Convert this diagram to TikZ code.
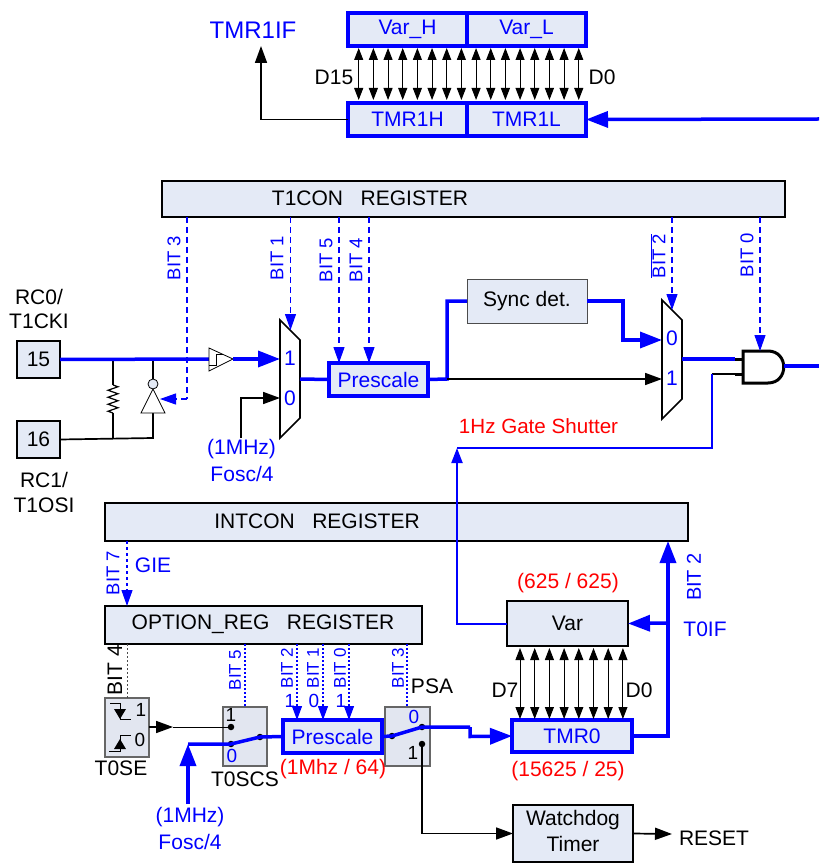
\documentclass[tikz,border=0pt]{standalone}
\usepackage{fontspec}
\setmainfont{Liberation Sans}
\usetikzlibrary{arrows.meta,decorations.pathmorphing}

\definecolor{boxfill}{HTML}{E4EAF6}
\definecolor{swfill}{HTML}{E2E6F0}
\tikzstyle{regbox} = [draw=black, line width=1.7pt, fill=boxfill, anchor=north west,
    inner sep=0pt, outer sep=0pt, font=\fontsize{21}{23}\selectfont]
\tikzstyle{bluebox} = [regbox, draw=blue, line width=3.5pt, text=blue]
\tikzstyle{swbox} = [regbox, line width=1.2pt, draw=black!60, fill=swfill]
\tikzstyle{txt} = [inner sep=0pt, font=\fontsize{21}{23}\selectfont]
\tikzstyle{digit} = [txt, font=\fontsize{19}{21}\selectfont]
\tikzstyle{bluetxt} = [txt, text=blue]
\tikzstyle{bluedigit} = [digit, text=blue]
\tikzstyle{redtxt} = [txt, text=red]
\tikzstyle{bitlbl} = [bluetxt, rotate=90, font=\fontsize{18.5}{20}\selectfont]
\tikzstyle{smallbit} = [bluetxt, rotate=90, font=\fontsize{17}{18}\selectfont]
\tikzstyle{wire} = [line width=1.7pt]
\tikzstyle{wirearr} = [wire, -{Triangle[length=17pt,width=12pt]}]
\tikzstyle{bluewire} = [draw=blue, line width=3.5pt]
\tikzstyle{bluearr} = [bluewire, -{Triangle[length=22pt,width=16pt]}]
\tikzstyle{biarr} = [line width=1pt, {Triangle[length=12pt,width=9pt]}-{Triangle[length=12pt,width=9pt]}]
\tikzstyle{dashbit} = [draw=blue, line width=1.1pt, dash pattern=on 6pt off 4pt,
    -{Triangle[length=16pt,width=11pt]}]
\tikzstyle{dotbit} = [draw=blue, line width=1.1pt, dash pattern=on 2pt off 2pt]
\tikzstyle{dotarr} = [dotbit, -{Triangle[length=14pt,width=10pt]}]
\tikzstyle{dot} = [circle, fill=black, inner sep=0pt, minimum size=6.5pt]

\begin{document}
\begin{tikzpicture}[x=1pt, y=-1pt]
  \useasboundingbox (0,0) rectangle (819,866);

  % top registers
  \node (varh) [bluebox, minimum width=119pt, minimum height=33pt] at (348,13) {Var\_H};
  \node (varl) [bluebox, minimum width=119pt, minimum height=33pt] at (467,13) {Var\_L};
  \node (tmrh) [bluebox, minimum width=119pt, minimum height=33pt] at (348,103) {TMR1H};
  \node (tmrl) [bluebox, minimum width=119pt, minimum height=33pt] at (467,103) {TMR1L};
  \node (tmrif) [bluetxt, font=\fontsize{24}{26}\selectfont] at (253,30) {TMR1IF};
  \node (d15) [txt] at (334,77) {D15};
  \node (d0) [txt] at (602,77) {D0};
  \coordinate (tmrifin) at (261,46);
  \coordinate (tmrin) at (819,119);
  \draw [wirearr] (tmrh.west) -| (tmrifin);
  \draw [bluearr] (tmrin) -- (tmrl.east);
  \foreach \i in {0,...,15} {
    \coordinate (upa\i) at (358.7+14.67*\i,48);
    \coordinate (upb\i) at (358.7+14.67*\i,100);
    \draw [biarr] (upa\i) -- (upb\i);
  }

  % T1CON
  \node (t1con) [regbox, minimum width=623pt, minimum height=36pt] at (162,181) {};
  \node (t1context) [txt] at (370,198) {T1CON\ \ \ REGISTER};
  \node (pin15) [regbox, minimum width=43pt, minimum height=37pt] at (17,341) {15};
  \node (pin16) [regbox, minimum width=43pt, minimum height=37pt] at (17,421) {16};
  \node (rc0) [txt] at (39,297) {RC0/};
  \node (t1cki) [txt] at (39,321) {T1CKI};
  \node (rc1) [txt] at (44,480) {RC1/};
  \node (t1osi) [txt] at (44,505) {T1OSI};
  \node (pre1) [bluebox, minimum width=99pt, minimum height=33pt] at (329,363) {Prescale};
  \node (sync) [regbox, line width=1pt, draw=black!70, minimum width=120pt, minimum height=44pt] at (467,279) {Sync det.};

  % pins, resistor and buffers
  \coordinate (tapr) at (113,359);
  \coordinate (tapi) at (153,359);
  \coordinate (lowr) at (113,438);
  \coordinate (lowi) at (153,438);
  \coordinate (invtip) at (153,389);
  \coordinate (invbase) at (153,413);
  \coordinate (rtop) at (113,385);
  \coordinate (rbot) at (113,413);
  \coordinate (sta) at (209,359);
  \coordinate (stb) at (233,359);
  \coordinate (muxai) at (280,359);
  \coordinate (muxaj) at (280,398);
  \coordinate (muxao) at (300,379);
  \draw [wire] (pin16.east) -- (lowi) -- (invbase);
  \draw [wire] (tapr) -- (rtop);
  \draw [line width=1.2pt, decorate, decoration={zigzag, segment length=7pt, amplitude=5pt}] (rtop) -- (rbot);
  \draw [wire] (rbot) -- (lowr);
  \draw [wire] (tapi) -- (153,379);
  \draw [bluewire] (pin15.east) -- (sta);
  \draw [line width=.8pt, fill=white] (sta |- 0,348) -- (stb) -- (sta |- 0,371) -- cycle;
  \draw [line width=.8pt] (209,365) -- (216,365) -- (216,354) -- (223,354);
  \draw [line width=.8pt, fill=boxfill] (153,384) circle (5);
  \draw [line width=.8pt, fill=white] (invtip) -- (165,413) -- (141,413) -- cycle;
  \draw [bluearr] (stb) -- (muxai);
  \draw [wirearr] (241,438) node (foscin) {} -- (241,398) -- (muxaj);

  % first mux
  \draw [line width=1.7pt, fill=white] (280,320) -- (300,340) -- (300,418) -- (280,438) -- cycle;
  \node (muxa1) [bluetxt] at (290,358) {1};
  \node (muxa0) [bluetxt] at (290,398) {0};
  \node (fosca) [bluetxt] at (241.5,449) {(1MHz)};
  \node (foscb) [bluetxt] at (242,474) {Fosc/4};
  \draw [bluewire] (muxao) -- (pre1.west);

  % second mux and gate
  \coordinate (split) at (447,379);
  \coordinate (muxbi) at (662,340);
  \coordinate (muxbj) at (662,379);
  \coordinate (muxbo) at (682,359);
  \coordinate (anda) at (743,359);
  \coordinate (andb) at (743,374);
  \coordinate (andout) at (784,366);
  \coordinate (andend) at (819,366);
  \coordinate (stuba) at (735,359);
  \coordinate (stubb) at (735,374);
  \coordinate (gate) at (712,374);
  \draw [bluewire] (pre1.east) -- (split) |- (sync.west);
  \draw [wirearr] (split) -- (muxbj);
  \draw [bluearr] (sync.east) -| (623,340) -- (muxbi);
  \draw [line width=1.7pt, fill=white] (662,300) -- (682,320) -- (682,399) -- (662,419) -- cycle;
  \node (muxb0) [bluetxt] at (672,338) {0};
  \node (muxb1) [bluetxt] at (672,378) {1};
  \draw [bluewire] (muxbo) -- (stuba);
  \draw [line width=3pt] (stuba) -- (anda);
  \draw [line width=1.7pt] (gate) -- (stubb);
  \draw [line width=3pt] (stubb) -- (andb);
  \draw [line width=3pt, fill=white] (743,351) -- (768,351) .. controls (789,351) and (789,383) .. (768,383) -- (743,383) -- cycle;
  \draw [bluewire] (andout) -- (andend);
  \node (shutter) [redtxt, font=\fontsize{20.6}{23}\selectfont] at (538.5,426) {1Hz Gate Shutter};

  % T1CON control bits
  \coordinate (bitc) at (187,399);
  \coordinate (invctl) at (160,399);
  \draw [draw=blue, line width=1.1pt, dash pattern=on 6pt off 4pt] (187,217) -- (bitc);
  \draw [dashbit] (bitc) -- (invctl);
  \draw [dashbit] (290.5,217) -- (290.5,330);
  \draw [dashbit] (339,217) -- (339,363);
  \draw [dashbit] (369,217) -- (369,363);
  \draw [dashbit] (672,217) -- (672,310);
  \draw [dashbit] (760,217) -- (760,351);
  \node (bit3) [bitlbl] at (174,258) {BIT 3};
  \node (bit1) [bitlbl] at (277,258) {BIT 1};
  \node (bit5) [bitlbl] at (326,260) {BIT 5};
  \node (bit4) [bitlbl] at (356,260) {BIT 4};
  \node (bit2) [bitlbl] at (658,256) {$\overline{\mbox{BIT 2}}$};
  \node (bit0) [bitlbl] at (747,255) {BIT 0};

  % INTCON and OPTION_REG
  \node (intcon) [regbox, minimum width=583pt, minimum height=38pt] at (105,503) {};
  \node (intcontext) [txt] at (317,521) {INTCON\ \ \ REGISTER};
  \node (option) [regbox, minimum width=317pt, minimum height=38pt] at (105,606) {};
  \node (optiontext) [txt] at (263,624) {OPTION\_REG\ \ \ REGISTER};
  \node (bit7) [bitlbl] at (113,573) {BIT 7};
  \node (gie) [bluetxt] at (153,565) {GIE};
  \draw [dashbit, dash pattern=on 3pt off 3pt] (127,541) -- (127,606);

  % lower switches
  \node (t0se) [swbox, minimum width=44pt, minimum height=59pt] at (105,698) {};
  \node (t0scs) [swbox, minimum width=44pt, minimum height=59pt] at (223,707) {};
  \node (psa) [swbox, minimum width=45pt, minimum height=59pt] at (385,707) {};
  \node (pre2) [bluebox, minimum width=99pt, minimum height=33pt] at (283,720) {Prescale};
  \node (tmr0) [bluebox, minimum width=120pt, minimum height=32pt] at (512,720) {TMR0};
  \node (var) [regbox, minimum width=121pt, minimum height=45pt] at (507,601) {Var};
  \node (wdt) [regbox, minimum width=120pt, minimum height=57pt] at (513,805) {};
  \node (wdta) [txt] at (573,820) {Watchdog};
  \node (wdtb) [txt] at (573,844) {Timer};

  \draw [line width=1pt] (110,703) -- (120,703) -- (120,719) -- (131,719);
  \draw [line width=1pt] (109,751) -- (120,751) -- (120,735) -- (131,735);
  \fill (114,709) -- (126,709) -- (120,719) -- cycle;
  \fill (114,749) -- (126,749) -- (120,739) -- cycle;
  \node (sea) [digit] at (141,710) {1};
  \node (seb) [digit] at (140,740) {0};
  \node (selbl) [txt] at (121,768) {T0SE};
  \node (scslbl) [txt] at (245,779) {T0SCS};
  \node (psalbl) [txt] at (432,686) {PSA};
  \node (scsa) [digit] at (231,715) {1};
  \node (scsb) [bluedigit] at (232,756) {0};
  \node (psaa) [bluedigit] at (414,717) {0};
  \node (psab) [digit] at (413,753) {1};

  \node (scsp) [dot] at (231,727) {};
  \node (scsq) [dot] at (231,744) {};
  \node (scsr) [dot] at (260,737) {};
  \node (psap) [dot] at (392,736) {};
  \node (psaq) [dot] at (422,727) {};
  \node (psar) [dot] at (422,744) {};
  \coordinate (tap) at (188,744);
  \coordinate (foscc) at (188,804);
  \coordinate (bend) at (470,727);
  \coordinate (t0wire) at (173,727);
  \draw [wirearr] (t0se.east |- scsp) -- (t0wire);
  \draw [line width=1pt] (t0wire) -- (scsp);
  \draw [bluewire] (tap) -- (scsq.center) -- (scsr.center) -- (pre2.west);
  \draw [bluearr] (foscc) -- (tap);
  \draw [bluewire] (pre2.east) -- (psap.center) -- (psaq.center) -- (bend);
  \draw [bluearr] (bend) -- (470,736.5) -- (tmr0.west);
  \draw [wirearr] (psar.center) |- (wdt.west);
  \coordinate (resetend) at (672,834);
  \draw [wirearr] (wdt.east) -- (resetend);
  \node (reset) [txt] at (714,838) {RESET};
  \node (fosce) [bluetxt] at (190,817) {(1MHz)};
  \node (foscf) [bluetxt] at (190,842) {Fosc/4};
  \node (redpre) [redtxt] at (333,769) {(1Mhz / 64)};
  \node (redvar) [redtxt] at (568,583) {(625 / 625)};
  \node (redtmr) [redtxt] at (568,771) {(15625 / 25)};

  % option bits
  \draw [draw=black!70, line width=1pt, dash pattern=on 2pt off 2pt] (127,644) -- (127,698);
  \draw [dotbit] (245,644) -- (245,707);
  \draw [dotarr] (297,644) -- (297,720);
  \draw [dotarr] (323,644) -- (323,720);
  \draw [dotarr] (349,644) -- (349,720);
  \draw [dotbit] (407,644) -- (407,707);
  \node (obit4) [txt, rotate=90, font=\fontsize{21}{22}\selectfont] at (115,670) {BIT 4};
  \node (obit5) [smallbit] at (235,670) {BIT 5};
  \node (obit2) [smallbit] at (287,668) {BIT 2};
  \node (obit1) [smallbit] at (313,668) {BIT 1};
  \node (obit0) [smallbit] at (340,668) {BIT 0};
  \node (obit3) [smallbit] at (398,668) {BIT 3};
  \node (ona) [bluedigit] at (290,701) {1};
  \node (onb) [bluedigit] at (314,701) {0};
  \node (onc) [bluedigit] at (341,701) {1};

  % timer 0 and the flag
  \foreach \i in {0,...,7} {
    \coordinate (lowa\i) at (520+14.7*\i,648);
    \coordinate (lowb\i) at (520+14.7*\i,719);
    \draw [biarr] (lowa\i) -- (lowb\i);
  }
  \coordinate (flag) at (668,623);
  \coordinate (shuta) at (457,623);
  \coordinate (shutb) at (457,448);
  \draw [bluearr] (tmr0.east) -| (intcon.south -| flag);
  \draw [bluearr] (flag) -- (var.east);
  \draw [draw=blue, line width=2pt, -{Triangle[length=15pt,width=11pt]}] (var.west) -| (shutb);
  \draw [draw=blue, line width=2pt] (shutb) -| (gate);
  \node (d7) [txt] at (505,690) {D7};
  \node (d00) [txt] at (639,690) {D0};
  \node (bit22) [bitlbl, font=\fontsize{20}{22}\selectfont] at (694,577) {BIT 2};
  \node (t0if) [bluetxt] at (705,629) {T0IF};
\end{tikzpicture}
\end{document}
